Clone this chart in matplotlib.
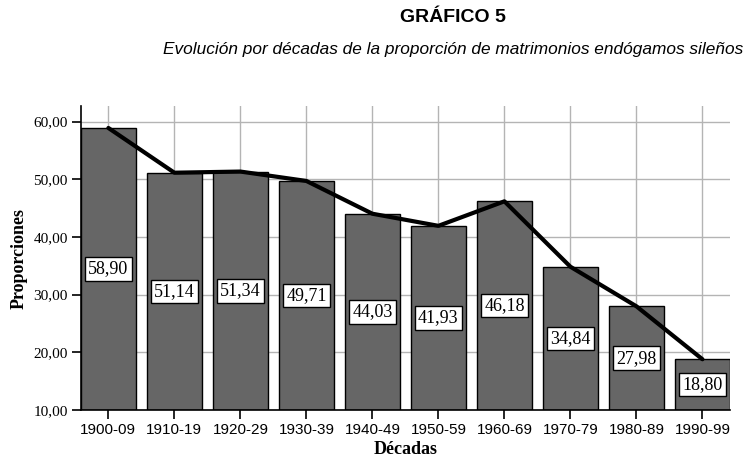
import matplotlib.pyplot as plt
from matplotlib.ticker import FuncFormatter

decadas = ["1900-09", "1910-19", "1920-29", "1930-39", "1940-49",
           "1950-59", "1960-69", "1970-79", "1980-89", "1990-99"]
proporciones = [58.90, 51.14, 51.34, 49.71, 44.03, 41.93, 46.18, 34.84, 27.98, 18.80]
yticks = [10, 20, 30, 40, 50, 60]

fig = plt.figure(figsize=(7.47, 4.61), dpi=100)
ax = fig.add_axes([0.1084, 0.1106, 0.8686, 0.6594])

x = list(range(len(decadas)))
base = 10
ax.bar(x, [v - base for v in proporciones], bottom=base, width=0.83,
       color="#666666", edgecolor="black", linewidth=1.0, zorder=2)
ax.plot(x, proporciones, color="black", linewidth=3.0, zorder=3,
        solid_capstyle="round", solid_joinstyle="round")

# etiquetas en el centro de cada barra
for xi, v in zip(x, proporciones):
    ax.text(xi, (base + v) / 2, f"{v:.2f}".replace(".", ","),
            ha="center", va="center", fontsize=13, family="Liberation Serif",
            bbox=dict(boxstyle="square,pad=0.18", facecolor="white",
                      edgecolor="black", linewidth=1.0), zorder=4)

ax.set_xlim(-0.415, len(decadas) - 1 + 0.415)
ax.set_ylim(10, 62.7)
ax.set_xticks(x)
ax.set_xticklabels(decadas, family="Liberation Sans", fontsize=11)
ax.set_yticks(yticks)
ax.yaxis.set_major_formatter(FuncFormatter(lambda v, p: f"{v:.2f}".replace(".", ",")))
for lab in ax.get_yticklabels():
    lab.set_family("Liberation Serif")
    lab.set_fontsize(11)

ax.grid(True, color="#b4b4b4", linewidth=1.0, zorder=0)
ax.set_axisbelow(True)
ax.spines["top"].set_visible(False)
ax.spines["right"].set_visible(False)
ax.spines["left"].set_linewidth(1.2)
ax.spines["bottom"].set_linewidth(1.2)
ax.tick_params(direction="out", length=6.5, width=1.2, colors="black", pad=3)

ax.set_ylabel("Proporciones", family="Liberation Serif", fontweight="bold",
              fontsize=13, labelpad=4)
ax.set_xlabel("Décadas", family="Liberation Serif", fontweight="bold",
              fontsize=13, labelpad=3)

fig.text(0.606, 0.962, "GRÁFICO 5", ha="center", va="center",
         family="Liberation Sans", fontweight="bold", fontsize=14)
fig.text(0.606, 0.893, "Evolución por décadas de la proporción de matrimonios endógamos sileños",
         ha="center", va="center", family="Liberation Sans", style="italic", fontsize=12.4)

fig.savefig("out.png", dpi=100)
